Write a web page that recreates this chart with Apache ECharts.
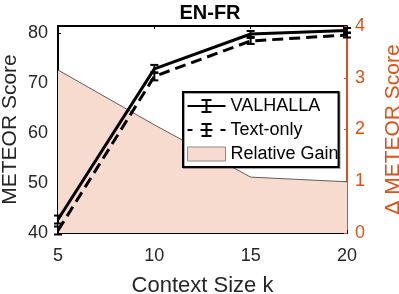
<!DOCTYPE html>
<html>
<head>
<meta charset="utf-8">
<script src="https://cdn.jsdelivr.net/npm/echarts@6/dist/echarts.min.js"></script>
<style>html,body{margin:0;padding:0;background:#fff;}#c{width:399px;height:294px;}</style>
</head>
<body>
<div id="c"></div>
<script>
var contextSizes = [5, 10, 15, 20];
var valhalla = [42.7, 72.9, 79.9, 80.6];
var valhallaErr = [0.8, 0.8, 0.6, 0.5];
var textOnly = [40.5, 71.4, 78.5, 79.7];
var textOnlyErr = [0.8, 0.8, 0.6, 0.5];
var relativeGain = [3.15, 2.09, 1.08, 0.99];
var xTicks = [5, 10, 15, 20];
var leftTicks = [40, 50, 60, 70, 80];
var rightTicks = [0, 1, 2, 3, 4];

var FONT = '"Liberation Sans", Arial, Helvetica, sans-serif';
var ORANGE = '#D95319';
var TXT = '#262626';

function pairs(xs, ys) { return xs.map(function (x, i) { return [x, ys[i]]; }); }
function errData(xs, ys, es) { return xs.map(function (x, i) { return [x, ys[i] - es[i], ys[i] + es[i]]; }); }

function errRender(params, api) {
  var x = api.value(0);
  var lo = api.coord([x, api.value(1)]);
  var hi = api.coord([x, api.value(2)]);
  var w = 4;
  var st = { stroke: '#000', lineWidth: 2 };
  return {
    type: 'group',
    children: [
      { type: 'line', shape: { x1: lo[0], y1: lo[1], x2: hi[0], y2: hi[1] }, style: st },
      { type: 'line', shape: { x1: lo[0] - w, y1: lo[1], x2: lo[0] + w, y2: lo[1] }, style: st },
      { type: 'line', shape: { x1: hi[0] - w, y1: hi[1], x2: hi[0] + w, y2: hi[1] }, style: st }
    ]
  };
}

var chart = echarts.init(document.getElementById('c'));
chart.setOption({
  animation: false,
  backgroundColor: '#fff',
  textStyle: { fontFamily: FONT },
  title: {
    text: 'EN-FR', left: 205, top: -2, textAlign: 'center',
    textStyle: { fontFamily: FONT, fontSize: 20, fontWeight: 'bold', color: '#000' }
  },
  grid: { left: 58, right: 52, top: 26, bottom: 61, containLabel: false, outerBoundsMode: 'none' },
  legend: {
    orient: 'vertical', left: 183, top: 92,
    padding: [5, 0, 4, 4], itemGap: 6, itemWidth: 38, itemHeight: 14,
    backgroundColor: '#fff', borderColor: '#000', borderWidth: 2,
    shadowColor: 'rgba(0,0,0,0.35)', shadowBlur: 0, shadowOffsetX: 1, shadowOffsetY: 1,
    textStyle: { fontFamily: FONT, fontSize: 18, lineHeight: 18, color: '#000' },
    data: [
      { name: 'VALHALLA', icon: 'path://M0,6H38V8H0Z M18,0H20V14H18Z M14,0H24V2H14Z M14,12H24V14H14Z', itemStyle: { color: '#000' } },
      { name: 'Text-only', icon: 'path://M0,6H5V8H0Z M33,6H38V8H33Z M18,0H20V14H18Z M14,0H24V2H14Z M14,12H24V14H14Z M13,6H25V8H13Z', itemStyle: { color: '#000' } },
      { name: 'Relative Gain', icon: 'rect', itemStyle: { color: '#f7dbcf', borderColor: '#8a8a8a', borderWidth: 1 } }
    ]
  },
  xAxis: [
    {
      type: 'value', min: 5, max: 20, interval: 5, position: 'bottom',
      name: 'Context Size k', nameLocation: 'middle', nameGap: 42, nameMoveOverlap: false,
      nameTextStyle: { fontFamily: FONT, fontSize: 22, color: TXT },
      axisLine: { show: true, lineStyle: { color: '#000', width: 2 } },
      axisTick: { show: true, inside: true, length: 3, lineStyle: { color: '#000', width: 1 } },
      axisLabel: { margin: 14, fontFamily: FONT, fontSize: 18, color: TXT,
        formatter: function (v) { return xTicks.indexOf(v) >= 0 ? String(v) : ''; } },
      splitLine: { show: false }
    },
    {
      type: 'value', min: 5, max: 20, interval: 5, position: 'top',
      axisLine: { show: true, lineStyle: { color: '#000', width: 2 } },
      axisTick: { show: true, inside: true, length: 3, lineStyle: { color: '#000', width: 1 } },
      axisLabel: { show: false }, splitLine: { show: false }
    }
  ],
  yAxis: [
    {
      type: 'value', min: 40, max: 81.5, interval: 10, position: 'left',
      name: 'METEOR Score', nameLocation: 'middle', nameGap: 37, nameRotate: 90, nameMoveOverlap: false,
      nameTextStyle: { fontFamily: FONT, fontSize: 21, color: TXT },
      axisLine: { show: true, lineStyle: { color: '#000', width: 2 } },
      axisTick: { show: true, inside: true, length: 3, lineStyle: { color: '#000', width: 1 } },
      axisLabel: { margin: 10, fontFamily: FONT, fontSize: 18, color: TXT,
        formatter: function (v) { return leftTicks.indexOf(v) >= 0 ? String(v) : ''; } },
      splitLine: { show: false }
    },
    {
      type: 'value', min: 0, max: 4, interval: 1, position: 'right',
      name: '\u0394 METEOR Score', nameLocation: 'middle', nameGap: 36, nameRotate: 90, nameMoveOverlap: false,
      nameTextStyle: { fontFamily: FONT, fontSize: 21, color: ORANGE },
      axisLine: { show: true, lineStyle: { color: ORANGE, width: 2 } },
      axisTick: { show: true, inside: true, length: 3, lineStyle: { color: ORANGE, width: 1 } },
      axisLabel: { margin: 8, fontFamily: FONT, fontSize: 18, color: ORANGE,
        formatter: function (v) { return rightTicks.indexOf(v) >= 0 ? String(v) : ''; } },
      splitLine: { show: false }
    }
  ],
  series: [
    {
      name: 'Relative Gain', type: 'line', yAxisIndex: 1, xAxisIndex: 0, z: 1,
      data: pairs(contextSizes, relativeGain), symbol: 'none',
      lineStyle: { color: '#3a3a3a', width: 0.8 },
      itemStyle: { color: '#f7dbcf' },
      areaStyle: { color: '#f7dbcf', opacity: 1 }
    },
    {
      name: 'VALHALLA', type: 'line', yAxisIndex: 0, xAxisIndex: 0, z: 3,
      data: pairs(contextSizes, valhalla), symbol: 'none',
      lineStyle: { color: '#000', width: 3 }, itemStyle: { color: '#000' }
    },
    {
      name: 'Text-only', type: 'line', yAxisIndex: 0, xAxisIndex: 0, z: 3,
      data: pairs(contextSizes, textOnly), symbol: 'none',
      lineStyle: { color: '#000', width: 3, type: [11, 6] }, itemStyle: { color: '#000' }
    },
    {
      name: 'VALHALLA err', type: 'custom', yAxisIndex: 0, xAxisIndex: 0, z: 4,
      data: errData(contextSizes, valhalla, valhallaErr), renderItem: errRender,
      encode: { x: 0, y: [1, 2] }
    },
    {
      name: 'Text-only err', type: 'custom', yAxisIndex: 0, xAxisIndex: 0, z: 4,
      data: errData(contextSizes, textOnly, textOnlyErr), renderItem: errRender,
      encode: { x: 0, y: [1, 2] }
    }
  ]
});
</script>
</body>
</html>
